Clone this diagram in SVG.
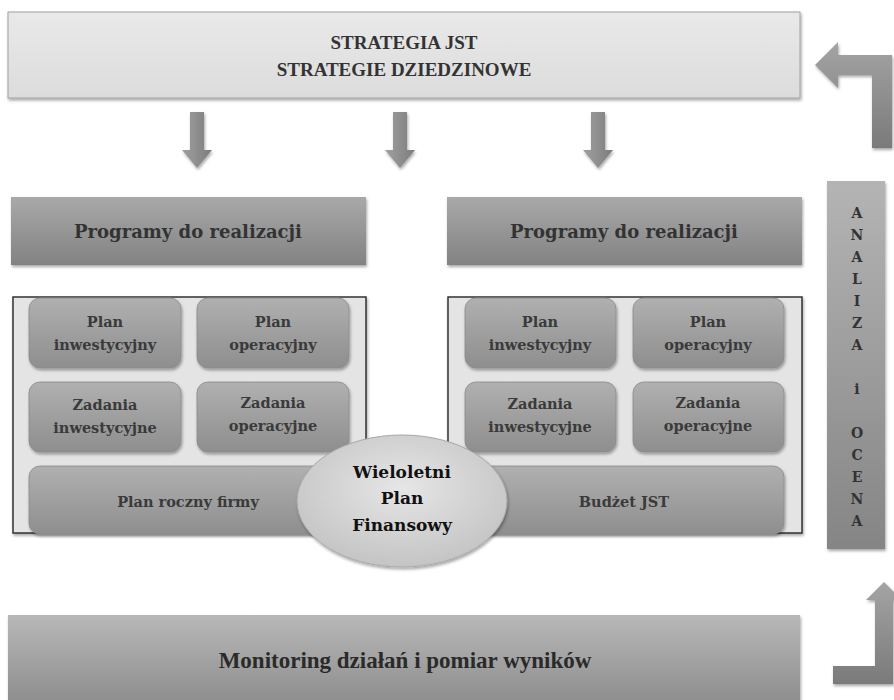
<svg xmlns="http://www.w3.org/2000/svg" width="894" height="700" viewBox="0 0 894 700">
<defs>
  <linearGradient id="gTop" x1="0" y1="0" x2="0" y2="1">
    <stop offset="0" stop-color="#e9e9e9"/><stop offset="1" stop-color="#dcdcdc"/>
  </linearGradient>
  <linearGradient id="gProg" x1="0" y1="0" x2="0" y2="1">
    <stop offset="0" stop-color="#a9a9a9"/><stop offset="1" stop-color="#828282"/>
  </linearGradient>
  <linearGradient id="gInner" x1="0" y1="0" x2="0" y2="1">
    <stop offset="0" stop-color="#b0b0b0"/><stop offset="1" stop-color="#8e8e8e"/>
  </linearGradient>
  <linearGradient id="gSide" x1="0" y1="0" x2="0" y2="1">
    <stop offset="0" stop-color="#b4b4b4"/><stop offset="1" stop-color="#858585"/>
  </linearGradient>
  <linearGradient id="gMon" x1="0" y1="0" x2="0" y2="1">
    <stop offset="0" stop-color="#b8b8b8"/><stop offset="1" stop-color="#8a8a8a"/>
  </linearGradient>
  <linearGradient id="gArrow" x1="0" y1="0" x2="1" y2="0">
    <stop offset="0" stop-color="#a0a0a0"/><stop offset="1" stop-color="#7c7c7c"/>
  </linearGradient>
  <linearGradient id="gArrowV" x1="0" y1="0" x2="0" y2="1">
    <stop offset="0" stop-color="#a4a4a4"/><stop offset="1" stop-color="#7a7a7a"/>
  </linearGradient>
  <radialGradient id="gEll" cx="0.5" cy="0.4" r="0.6">
    <stop offset="0" stop-color="#e6e6e6"/><stop offset="1" stop-color="#c4c4c4"/>
  </radialGradient>
  <filter id="sh" x="-10%" y="-10%" width="120%" height="130%">
    <feDropShadow dx="1" dy="2" stdDeviation="1.5" flood-color="#000" flood-opacity="0.35"/>
  </filter>
</defs>
<style>
  text { font-family: "DejaVu Serif", "Liberation Serif", serif; font-weight: bold; text-anchor: middle; }
  .t1 { font-family: "Liberation Serif", "DejaVu Serif", serif; font-size: 19px; fill: #333; }
  .prog { font-size: 18px; fill: #333; }
  .in { font-size: 14.5px; fill: #3a3a3a; }
  .ell { font-size: 17px; fill: #111; }
  .side { font-size: 14px; fill: #333; }
  .mon { font-family: "Liberation Serif", "DejaVu Serif", serif; font-size: 23px; fill: #2a2a2a; }
  .box { filter: url(#sh); }
</style>

<g id="strategia">
  <rect class="box" x="8" y="12" width="792" height="86" fill="url(#gTop)" stroke="#a0a0a0" stroke-width="1"/>
  <text class="t1" x="404" y="49">STRATEGIA JST</text>
  <text class="t1" x="404" y="76">STRATEGIE DZIEDZINOWE</text>
</g>

<g id="connectors">
  <path id="arrow-down-1" class="box" d="M190,112 H204 V150 H212 L197,168 L182,150 H190 Z" fill="url(#gArrow)"/>
  <path id="arrow-down-2" class="box" d="M393,112 H407 V150 H415 L400,168 L385,150 H393 Z" fill="url(#gArrow)"/>
  <path id="arrow-down-3" class="box" d="M591,112 H605 V150 H613 L598,168 L583,150 H591 Z" fill="url(#gArrow)"/>
  <path id="arrow-back-top" class="box" d="M892,55 V148 H872 V75 H838 V88 L815,65 L838,42 V55 Z" fill="url(#gArrowV)"/>
  <path id="arrow-up-bottom" class="box" d="M893,684 H833 V666 H875 V600 H866 L884,582 L902,600 H893 Z" fill="url(#gArrowV)"/>
</g>

<g id="programy-left">
  <rect class="box" x="11" y="197" width="355" height="68" fill="url(#gProg)"/>
  <text class="prog" x="188" y="238">Programy do realizacji</text>
</g>
<g id="programy-right">
  <rect class="box" x="447" y="197" width="355" height="68" fill="url(#gProg)"/>
  <text class="prog" x="624" y="238">Programy do realizacji</text>
</g>

<g id="container-left">
  <rect class="box" x="13" y="297" width="353" height="236" fill="#e4e4e4" stroke="#333" stroke-width="1.5"/>
</g>
<g id="container-right">
  <rect class="box" x="448" y="297" width="354" height="236" fill="#e4e4e4" stroke="#333" stroke-width="1.5"/>
</g>

<g id="plan-inw-left">
  <rect class="box" x="29" y="298" width="152" height="70" rx="11" fill="url(#gInner)" stroke="#8a8a8a" stroke-width="0.8"/>
  <text class="in" x="105" y="327">Plan</text>
  <text class="in" x="105" y="350">inwestycyjny</text>
</g>
<g id="plan-op-left">
  <rect class="box" x="197" y="298" width="152" height="70" rx="11" fill="url(#gInner)" stroke="#8a8a8a" stroke-width="0.8"/>
  <text class="in" x="273" y="327">Plan</text>
  <text class="in" x="273" y="350">operacyjny</text>
</g>
<g id="zad-inw-left">
  <rect class="box" x="29" y="382" width="152" height="70" rx="11" fill="url(#gInner)" stroke="#8a8a8a" stroke-width="0.8"/>
  <text class="in" x="105" y="410">Zadania</text>
  <text class="in" x="105" y="433">inwestycyjne</text>
</g>
<g id="zad-op-left">
  <rect class="box" x="197" y="382" width="152" height="70" rx="11" fill="url(#gInner)" stroke="#8a8a8a" stroke-width="0.8"/>
  <text class="in" x="273" y="408">Zadania</text>
  <text class="in" x="273" y="431">operacyjne</text>
</g>
<g id="plan-roczny">
  <rect class="box" x="29" y="466" width="320" height="68" rx="11" fill="url(#gInner)" stroke="#8a8a8a" stroke-width="0.8"/>
  <text class="in" x="188" y="507">Plan roczny firmy</text>
</g>

<g id="plan-inw-right">
  <rect class="box" x="465" y="298" width="151" height="70" rx="11" fill="url(#gInner)" stroke="#8a8a8a" stroke-width="0.8"/>
  <text class="in" x="540" y="327">Plan</text>
  <text class="in" x="540" y="350">inwestycyjny</text>
</g>
<g id="plan-op-right">
  <rect class="box" x="633" y="298" width="151" height="70" rx="11" fill="url(#gInner)" stroke="#8a8a8a" stroke-width="0.8"/>
  <text class="in" x="708" y="327">Plan</text>
  <text class="in" x="708" y="350">operacyjny</text>
</g>
<g id="zad-inw-right">
  <rect class="box" x="465" y="382" width="151" height="70" rx="11" fill="url(#gInner)" stroke="#8a8a8a" stroke-width="0.8"/>
  <text class="in" x="540" y="409">Zadania</text>
  <text class="in" x="540" y="432">inwestycyjne</text>
</g>
<g id="zad-op-right">
  <rect class="box" x="633" y="382" width="151" height="70" rx="11" fill="url(#gInner)" stroke="#8a8a8a" stroke-width="0.8"/>
  <text class="in" x="708" y="408">Zadania</text>
  <text class="in" x="708" y="431">operacyjne</text>
</g>
<g id="budzet">
  <rect class="box" x="465" y="466" width="319" height="68" rx="11" fill="url(#gInner)" stroke="#8a8a8a" stroke-width="0.8"/>
  <text class="in" x="624" y="507">Budżet JST</text>
</g>

<g id="wpf">
  <ellipse class="box" cx="402" cy="501" rx="105" ry="66" fill="url(#gEll)" stroke="#a8a8a8" stroke-width="1"/>
  <text class="ell" x="402" y="478">Wieloletni</text>
  <text class="ell" x="402" y="504">Plan</text>
  <text class="ell" x="402" y="531">Finansowy</text>
</g>

<g id="analiza">
  <rect class="box" x="827" y="181" width="58" height="368" fill="url(#gSide)"/>
  <text class="side" x="857" y="218">A</text>
  <text class="side" x="857" y="240">N</text>
  <text class="side" x="857" y="262">A</text>
  <text class="side" x="857" y="284">L</text>
  <text class="side" x="857" y="306">I</text>
  <text class="side" x="857" y="328">Z</text>
  <text class="side" x="857" y="350">A</text>
  <text class="side" x="857" y="394">i</text>
  <text class="side" x="857" y="438">O</text>
  <text class="side" x="857" y="460">C</text>
  <text class="side" x="857" y="482">E</text>
  <text class="side" x="857" y="504">N</text>
  <text class="side" x="857" y="526">A</text>
</g>

<g id="monitoring">
  <rect class="box" x="8" y="615" width="792" height="95" fill="url(#gMon)"/>
  <text class="mon" x="405" y="668">Monitoring działań i pomiar wyników</text>
</g>
</svg>
